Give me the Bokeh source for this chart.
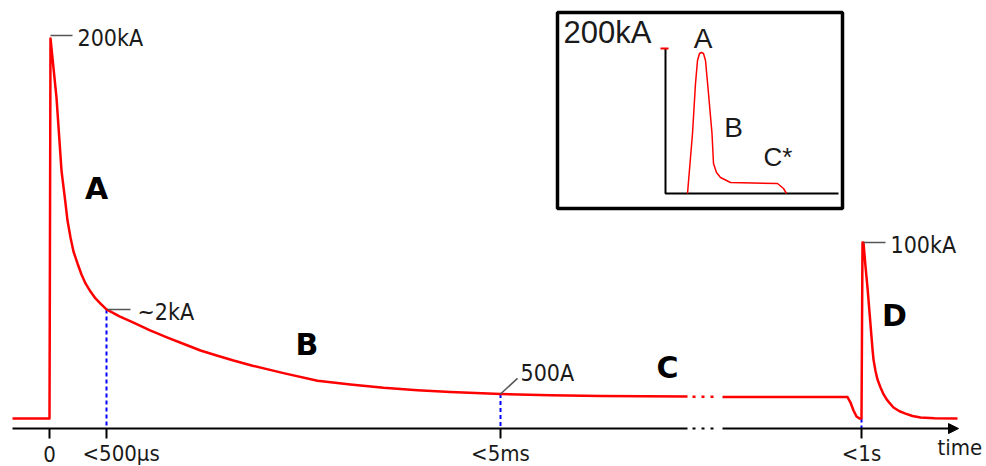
from bokeh.plotting import figure
from bokeh.models import Range1d, Arrow, NormalHead
from bokeh.embed import file_html
from bokeh.resources import INLINE
from bokeh.core.properties import value

# ---------------- data (schematic units) ----------------
# main waveform: t = position along the (broken) time axis, i = current (peak = 200 kA)
stroke_t = [-37, 0, 1, 7, 12, 16, 18, 21, 24, 28, 32, 36, 41, 46, 51, 57, 70, 84, 100,
            118, 135, 151, 168, 184, 203, 234, 268, 301, 334, 368, 401, 451, 501, 551, 638]
stroke_i = [0, 0, 200, 168.9, 130.5, 113.2, 104.2, 95.3, 87.9, 81.6, 75.8, 71.1, 66.8,
            63.2, 60.5, 57.4, 53.8, 50.5, 46.5, 42.6, 39.1, 35.8, 33.0, 30.5, 27.8, 23.9,
            19.9, 17.9, 16.2, 14.9, 13.9, 12.9, 12.3, 11.9, 11.6]
gap_t = [643, 667]
gap_i = [11.5, 11.5]
restrike_t = [673, 798, 801, 804, 807, 810, 812, 813, 814, 816, 818, 820, 822, 823, 824,
              826, 828, 831, 834, 837, 840, 844, 850, 856, 863, 871, 885, 908]
restrike_i = [11.3, 11.3, 8.4, 4.2, 1.1, 0, 0, 92.6, 92.6, 80.0, 68.9, 56.0, 43.0, 36.5,
              31.0, 25.0, 20.5, 16.3, 12.8, 10.2, 8.2, 5.8, 3.8, 2.6, 1.3, 0.5, 0.1, 0]

# axis
axis_level = -5.3
axis_start, axis_gap_start, axis_gap_end, axis_end = -37, 638, 673, 909
tick_t = [0, 57, 451, 812]
tick_labels = ["0", "<500µs", "<5ms", "<1s"]

# marked values
mark_t = [57, 451, 812]
mark_i = [57.4, 12.9, 0]

value_labels = ["200kA", "~2kA", "500A", "100kA"]
leader_t0 = [1, 58, 451, 814]
leader_i0 = [201.6, 57.4, 12.9, 92.6]
leader_t1 = [23, 81, 468, 836]
leader_i1 = [201.6, 57.4, 21.1, 92.6]
value_label_t = [28, 88, 471, 841]
value_label_i = [200.5, 56.3, 24.2, 91.1]

phase_names = ["A", "B", "C", "D"]
phase_t = [47, 257.5, 618, 845]
phase_i = [121, 39.2, 27, 54.2]

# inset waveform (inset units: peak = 200 kA)
inset_t = [22, 27, 30, 32, 34, 36, 38, 40, 43, 46.5, 48, 51, 55, 65, 112, 118, 121]
inset_i = [0, 82.8, 151.7, 183.4, 193.1, 194.5, 193.1, 183.4, 137.9, 82.8, 41.4, 29.0,
           22.1, 15.2, 13.8, 6.9, 0]
inset_peak = 200
inset_axis_len = 173
inset_names = ["A", "B", "C*"]
inset_name_t = [37.5, 68, 98]
inset_name_i = [213.8, 91, 49.7]

RED = "#ff0000"
BLUE = "#0000ff"
GREY = "#555555"
INK = "#1a1a1a"
LABEL_FONT = value("DejaVu Sans Condensed")

# ---------------- figure ----------------
p = figure(width=986, height=466, output_backend="svg", toolbar_location=None,
           x_range=Range1d(-49, 937), y_range=Range1d(-25.26, 220.0),
           x_axis_type=None, y_axis_type=None, min_border=0,
           outline_line_color=None, background_fill_color="white",
           border_fill_color="white")
p.grid.visible = False
p.extra_x_ranges = {"ix": Range1d(-665, 321)}
p.extra_y_ranges = {"iy": Range1d(-376.55, 266.21)}

# axis line with break
p.line([axis_start, axis_gap_start], [axis_level, axis_level], line_color="black", line_width=2)
p.line([gap_t[0], gap_t[1]], [axis_level, axis_level], line_color="black", line_width=2,
       line_dash="3 6")
p.add_layout(Arrow(end=NormalHead(size=10, fill_color="black", line_color="black"),
                   x_start=axis_gap_end, y_start=axis_level, x_end=axis_end, y_end=axis_level,
                   line_color="black", line_width=2))
p.segment(x0=tick_t, y0=[axis_level] * len(tick_t), x1=tick_t,
          y1=[axis_level - 5.2] * len(tick_t), line_color="black", line_width=2)

# dashed markers
p.segment(x0=mark_t, y0=mark_i, x1=mark_t, y1=[axis_level] * len(mark_t),
          line_color=BLUE, line_width=2, line_dash="4 3")

# waveform
p.line(stroke_t, stroke_i, line_color=RED, line_width=2.5, line_join="round")
p.line(gap_t, gap_i, line_color=RED, line_width=2.5, line_dash="3 6")
p.line(restrike_t, restrike_i, line_color=RED, line_width=2.5, line_join="round")

# value leaders and labels
p.segment(x0=leader_t0, y0=leader_i0, x1=leader_t1, y1=leader_i1, line_color=GREY,
          line_width=1.5)
p.text(x=value_label_t, y=value_label_i, text=value_labels, text_font=LABEL_FONT,
       text_font_size="23px", text_align="left", text_baseline="middle", text_color=INK)

# tick labels
p.text(x=[tick_t[0], tick_t[2], tick_t[3]], y=[-18.6] * 3,
       text=[tick_labels[0], tick_labels[2], tick_labels[3]], text_font=LABEL_FONT,
       text_font_size="22px", text_align="center", text_baseline="middle", text_color=INK)
p.text(x=[33], y=[-18.6], text=[tick_labels[1]], text_font=LABEL_FONT,
       text_font_size="22px", text_align="left", text_baseline="middle", text_color=INK)
p.text(x=[888], y=[-15.3], text=["time"], text_font=LABEL_FONT, text_font_size="22px",
       text_align="left", text_baseline="middle", text_color=INK)

# phase letters
p.text(x=phase_t, y=phase_i, text=phase_names, text_font=value("DejaVu Sans"),
       text_font_style="bold", text_font_size="30px", text_align="center",
       text_baseline="middle", text_color="black")

# ---------------- inset ----------------
p.quad(left=-108, right=177, bottom=-20.7, top=249.7, fill_color="white",
       line_color="black", line_width=3.5, x_range_name="ix", y_range_name="iy")
p.line([0, 0, inset_axis_len], [inset_peak, 0, 0], line_color="black", line_width=2,
       x_range_name="ix", y_range_name="iy")
p.line([-5, 3], [inset_peak, inset_peak], line_color=RED, line_width=2,
       x_range_name="ix", y_range_name="iy")
p.line(inset_t, inset_i, line_color=RED, line_width=1.5, line_join="round",
       x_range_name="ix", y_range_name="iy")
p.text(x=[-102], y=[221.4], text=["200kA"], text_font=value("Liberation Sans"),
       text_font_size="31px", text_align="left", text_baseline="middle",
       text_color=INK, x_range_name="ix", y_range_name="iy")
p.text(x=inset_name_t[:2], y=inset_name_i[:2], text=inset_names[:2],
       text_font=value("Liberation Sans"), text_font_size="28px", text_align="center",
       text_baseline="middle", text_color=INK, x_range_name="ix", y_range_name="iy")
p.text(x=[inset_name_t[2]], y=[inset_name_i[2]], text=[inset_names[2]],
       text_font=value("Liberation Sans"), text_font_size="26px", text_align="left",
       text_baseline="middle", text_color=INK, x_range_name="ix", y_range_name="iy")

open("out.html", "w").write(file_html(p, INLINE))
